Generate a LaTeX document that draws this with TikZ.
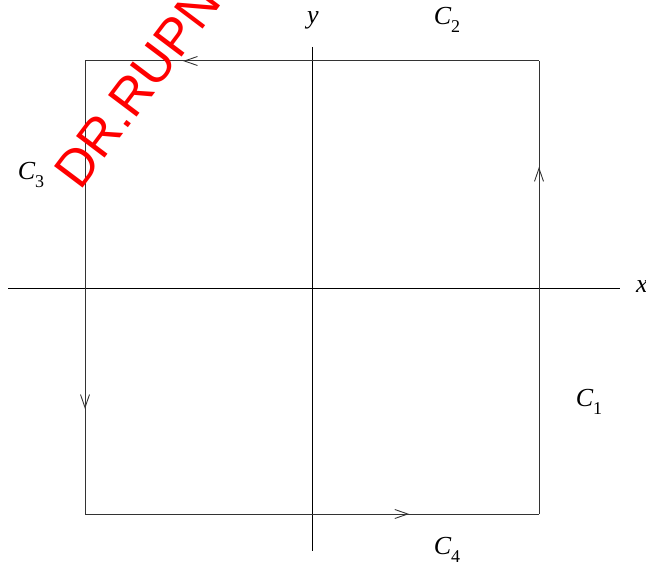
\documentclass[tikz,border=0pt]{standalone}
\usepackage{fontspec}
\setmainfont{Liberation Serif}
\newfontfamily\wmfont{Liberation Sans}
\usetikzlibrary{arrows.meta,decorations.markings}
\tikzset{
  edge/.style={draw=black!80, line width=1pt},
  axis/.style={draw=black, line width=1pt},
  midarrow/.style={postaction={decorate}, decoration={markings,
     mark=at position #1 with {\arrow{Straight Barb[length=13pt,width=9pt,line width=0.9pt]}}}},
  lbl/.style={font=\fontsize{26}{30}\selectfont\itshape, inner sep=0pt},
}
\newcommand{\Clab}[1]{C\raisebox{-0.28em}{\fontsize{18}{21}\selectfont\upshape #1}}
\begin{document}
\begin{tikzpicture}[x=1pt,y=-1pt]
\useasboundingbox (0,0) rectangle (646,567);
\clip (0,0) rectangle (646,567);
% corners
\coordinate (tl) at (85,61);
\coordinate (tr) at (539,61);
\coordinate (bl) at (85,514);
\coordinate (br) at (539,514);
% axes
\coordinate (xl) at (8,288);
\coordinate (xr) at (620,288);
\coordinate (yt) at (312,47);
\coordinate (yb) at (312,551);
\draw[axis] (xl) -- (xr);
\draw[axis] (yt) -- (yb);
% square edges with direction arrows
\draw[edge, midarrow=0.784] (tr) -- (tl);
\draw[edge, midarrow=0.766] (br) -- (tr);
\draw[edge, midarrow=0.768] (tl) -- (bl);
\draw[edge, midarrow=0.714] (bl) -- (br);
% labels
\node[lbl] (ylab) at (313,20) {y};
\node[lbl, anchor=west] (xlab) at (636,287) {x};
\node[lbl] (c2) at (447,20) {\Clab{2}};
\node[lbl] (c3) at (31,175) {\Clab{3}};
\node[lbl] (c1) at (589,402) {\Clab{1}};
\node[lbl] (c4) at (447,550) {\Clab{4}};
% watermark
\node[anchor=base west, rotate=53, text=red, inner sep=0pt,
      font=\wmfont\fontsize{52}{56}\selectfont] (wm) at (80,192) {DR.RUPN};
\end{tikzpicture}
\end{document}
